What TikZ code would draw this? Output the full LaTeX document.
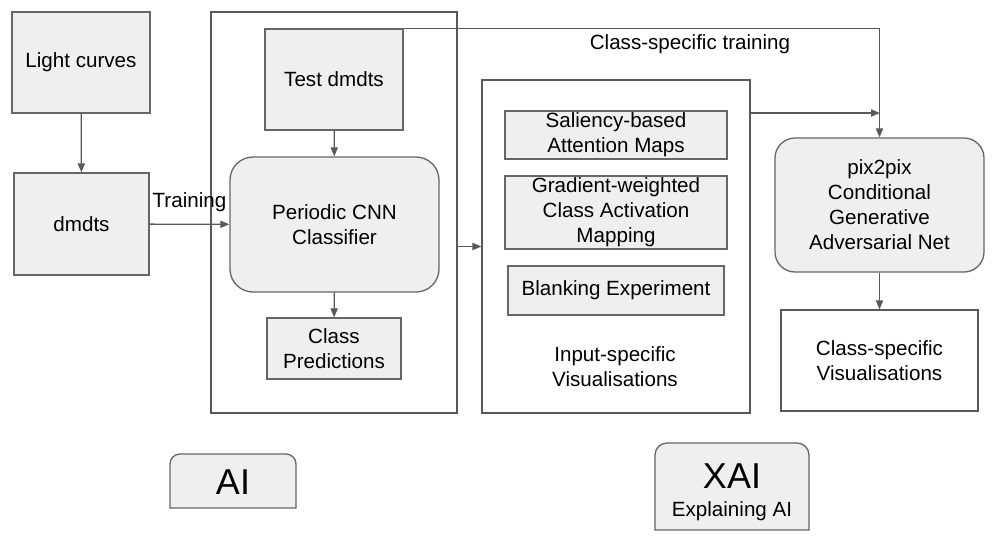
\documentclass[tikz,border=0pt]{standalone}
\usepackage{fontspec}
\setmainfont{Liberation Sans}
\usetikzlibrary{arrows.meta}
\definecolor{boxfill}{HTML}{EFEFEF}
\definecolor{boxline}{HTML}{666666}
\definecolor{arrline}{HTML}{595959}

\begin{document}
\begin{tikzpicture}[x=0.5pt, y=-0.5pt,
    every node/.style={font=\fontsize{10.3}{12.5}\selectfont, align=center, inner sep=0pt},
    greybox/.style={draw=boxline, fill=boxfill, line width=0.65pt},
    whitebox/.style={draw=arrline, fill=white, line width=0.6pt},
    tabbox/.style={draw=boxline, fill=boxfill, line width=0.65pt},
    conn/.style={draw=arrline, line width=0.65pt, -{Triangle[length=4.5pt, width=3.6pt]}}]
         \useasboundingbox (0, 0) rectangle (996, 547);
         % AI part
         \node [whitebox, minimum width=123pt, minimum height=200.5pt] (AIB) at (334, 212.5) {};
         \node [greybox, minimum width=69pt, minimum height=50.5pt] (LC) at (81, 62.5) {Light curves};
         \node [greybox, minimum width=67.5pt, minimum height=51pt] (DM) at (81.5, 224) {dmdts};
         \node [greybox, minimum width=69pt, minimum height=50.5pt] (TD) at (334, 79.5) {Test dmdts};
         \node [greybox, rounded corners=11.5pt, minimum width=104.5pt, minimum height=67.5pt] (CNN) at (334.5, 224.5) {Periodic CNN\\Classifier};
         \node [greybox, minimum width=67pt, minimum height=30.5pt] (CP) at (334, 348.5) {Class\\Predictions};
         % XAI part
         \node [whitebox, minimum width=134pt, minimum height=166.5pt] (ISB) at (616, 246.5) {};
         \node [greybox, minimum width=111pt, minimum height=24pt] (SAL) at (616, 135) {Saliency-based\\Attention Maps};
         \node [greybox, minimum width=111pt, minimum height=36.5pt] (GC) at (616, 212.5) {Gradient-weighted\\Class Activation\\Mapping};
         \node [greybox, minimum width=108pt, minimum height=24.5pt] (BL) at (616, 290.5) {Blanking Experiment};
         \node (IST) at (615, 367) {Input-specific\\Visualisations};
         \node [greybox, rounded corners=10pt, minimum width=104.5pt, minimum height=67pt] (PIX) at (879.5, 205) {pix2pix\\Conditional\\Generative\\Adversarial Net};
         \node [whitebox, minimum width=98.5pt, minimum height=50.5pt] (CSV) at (879.5, 360.5) {Class-specific\\Visualisations};
         \node (CST) at (690, 44) {Class-specific training};
         \coordinate (J) at (880, 113);
         % connectors
         \draw [conn] (LC) -- (DM);
         \draw [conn] (DM) -- node [above=6pt] {Training} (CNN);
         \draw [conn] (TD) -- (CNN);
         \draw [conn] (CNN) -- (CP);
         \draw [conn] (AIB.east |- ISB.west) -- (ISB.west);
         \draw [conn] (ISB.east |- J) -- (J);
         \draw [conn] (TD.north east) -| (PIX.north);
         \draw [conn] (PIX) -- (CSV);
         % tabs
         \filldraw [tabbox] (170, 508) -- (170, 464) arc [start angle=180, end angle=90, radius=5pt]
             -- (286, 454) arc [start angle=90, end angle=0, radius=5pt] -- (296, 508) -- cycle;
         \node (AI) at (233, 482) {\fontsize{18}{20}\selectfont AI};
         \filldraw [tabbox] (655, 530) -- (655, 455) arc [start angle=180, end angle=90, radius=6pt]
             -- (797, 443) arc [start angle=90, end angle=0, radius=6pt] -- (809, 530) -- cycle;
         \node (XAI) at (732, 476) {\fontsize{18}{20}\selectfont XAI};
         \node (XAIS) at (732, 511) {Explaining AI};
\end{tikzpicture}
\end{document}
